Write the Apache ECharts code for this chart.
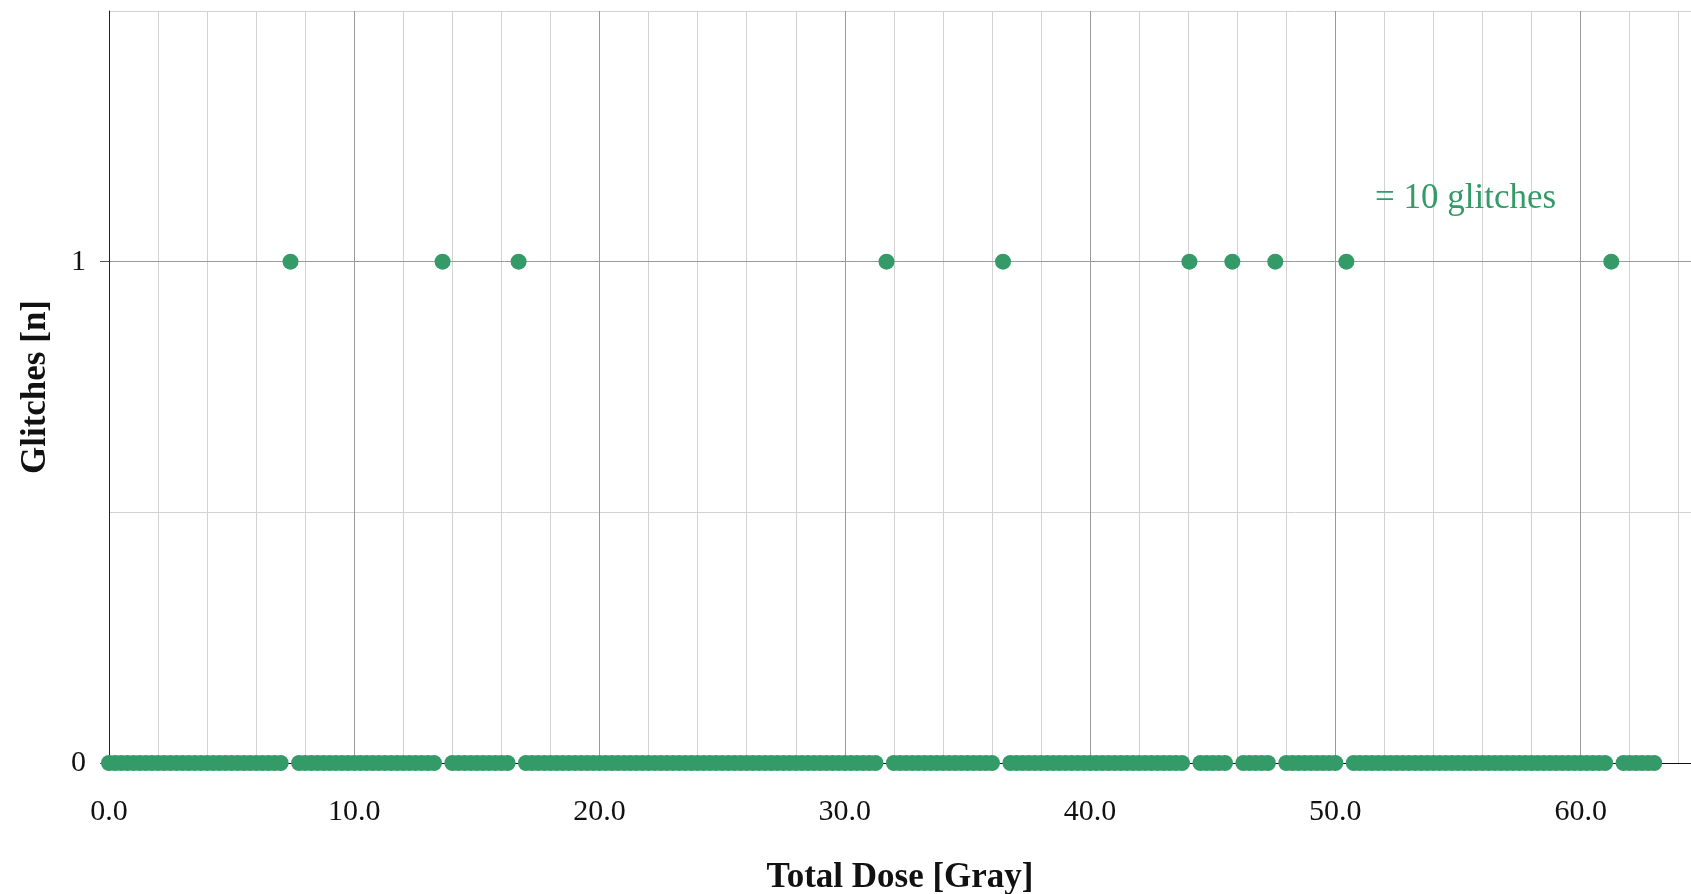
<!DOCTYPE html>
<html>
<head>
<meta charset="utf-8">
<script src="https://cdn.jsdelivr.net/npm/echarts@6/dist/echarts.min.js"></script>
<style>
html,body{margin:0;padding:0;background:#fff;}
#chart{width:1691px;height:894px;}
</style>
</head>
<body>
<div id="chart"></div>
<script>
// ---- data ----
const glitchDose = [7.4, 13.6, 16.7, 31.7, 36.45, 44.05, 45.8, 47.55, 50.45, 61.25];
const glitchCount = [1, 1, 1, 1, 1, 1, 1, 1, 1, 1];
const zeroDose = [
  0,0.25,0.5,0.75,1,1.25,1.5,1.75,2,2.25,2.5,2.75,3,3.25,3.5,3.75,4,4.25,4.5,4.75,
  5,5.25,5.5,5.75,6,6.25,6.5,6.75,7,7.75,8,8.25,8.5,8.75,9,9.25,9.5,9.75,
  10,10.25,10.5,10.75,11,11.25,11.5,11.75,12,12.25,12.5,12.75,13,13.25,14,14.25,14.5,14.75,
  15,15.25,15.5,15.75,16,16.25,17,17.25,17.5,17.75,18,18.25,18.5,18.75,19,19.25,19.5,19.75,
  20,20.25,20.5,20.75,21,21.25,21.5,21.75,22,22.25,22.5,22.75,23,23.25,23.5,23.75,24,24.25,24.5,24.75,
  25,25.25,25.5,25.75,26,26.25,26.5,26.75,27,27.25,27.5,27.75,28,28.25,28.5,28.75,29,29.25,29.5,29.75,
  30,30.25,30.5,30.75,31,31.25,32,32.25,32.5,32.75,33,33.25,33.5,33.75,34,34.25,34.5,34.75,
  35,35.25,35.5,35.75,36,36.75,37,37.25,37.5,37.75,38,38.25,38.5,38.75,39,39.25,39.5,39.75,
  40,40.25,40.5,40.75,41,41.25,41.5,41.75,42,42.25,42.5,42.75,43,43.25,43.5,43.75,44.5,44.75,
  45,45.25,45.5,46.25,46.5,46.75,47,47.25,48,48.25,48.5,48.75,49,49.25,49.5,49.75,
  50,50.75,51,51.25,51.5,51.75,52,52.25,52.5,52.75,53,53.25,53.5,53.75,54,54.25,54.5,54.75,
  55,55.25,55.5,55.75,56,56.25,56.5,56.75,57,57.25,57.5,57.75,58,58.25,58.5,58.75,59,59.25,59.5,59.75,
  60,60.25,60.5,60.75,61,61.75,62,62.25,62.5,62.75,63
];
const xMajorTicks = [0, 10, 20, 30, 40, 50, 60];
const yTickLabels = [0, 1];
const xTitle = 'Total Dose [Gray]';
const yTitle = 'Glitches [n]';
const noteText = '= 10 glitches';

// ---- chart ----
const GREEN = '#349b68';
const FONT = '"Liberation Serif", "DejaVu Serif", serif';
const chart = echarts.init(document.getElementById('chart'));

const zeroData = zeroDose.map(d => [d, 0]);
const glitchData = glitchDose.map((d, i) => [d, glitchCount[i]]);

chart.setOption({
  animation: false,
  backgroundColor: '#ffffff',
  grid: { left: 109, right: 0, top: 11, bottom: 131, containLabel: false, outerBoundsMode: 'none' },
  xAxis: [
    {
      type: 'value', min: 0, max: 64.5, interval: 10,
      name: xTitle, nameLocation: 'middle', nameGap: 97,
      nameTextStyle: { fontFamily: FONT, fontSize: 35, fontWeight: 'bold', color: '#111' },
      axisLine: { show: true, onZero: false, lineStyle: { color: '#111', width: 1 } },
      axisTick: { show: true, length: 8, lineStyle: { color: '#555' } },
      axisLabel: {
        margin: 34, fontFamily: FONT, fontSize: 30, color: '#111',
        showMaxLabel: false,
        formatter: v => xMajorTicks.indexOf(v) >= 0 ? v.toFixed(1) : ''
      },
      splitLine: { show: true, showMinLine: false, showMaxLine: false, lineStyle: { color: '#9a9a9a', width: 1 } },
      z: 2
    },
    {
      type: 'value', min: 0, max: 64.5, interval: 2, position: 'bottom',
      axisLine: { show: false }, axisTick: { show: false }, axisLabel: { show: false },
      splitLine: { show: true, showMinLine: false, showMaxLine: false, lineStyle: { color: '#d2d2d2', width: 1 } },
      z: 1
    }
  ],
  yAxis: [
    {
      type: 'value', min: 0, max: 1.5, interval: 1,
      name: yTitle, nameLocation: 'middle', nameGap: 56,
      nameTextStyle: { fontFamily: FONT, fontSize: 35, fontWeight: 'bold', color: '#111' },
      axisLine: { show: true, onZero: false, lineStyle: { color: '#222', width: 1 } },
      axisTick: { show: true, length: 9, lineStyle: { color: '#555' } },
      axisLabel: {
        margin: 23, fontFamily: FONT, fontSize: 30, color: '#111',
        showMaxLabel: false,
        formatter: v => yTickLabels.indexOf(v) >= 0 ? String(v) : ''
      },
      splitLine: { show: true, showMinLine: false, showMaxLine: false, lineStyle: { color: '#9a9a9a', width: 1 } },
      z: 2
    },
    {
      type: 'value', min: 0, max: 1.5, interval: 0.5, position: 'left',
      axisLine: { show: false }, axisTick: { show: false }, axisLabel: { show: false },
      splitLine: { show: true, showMinLine: false, showMaxLine: true, lineStyle: { color: '#d2d2d2', width: 1 } },
      z: 1
    }
  ],
  series: [
    {
      type: 'scatter', xAxisIndex: 0, yAxisIndex: 0,
      data: zeroData, symbol: 'circle', symbolSize: 16,
      itemStyle: { color: GREEN, opacity: 1 }, z: 5
    },
    {
      type: 'scatter', xAxisIndex: 0, yAxisIndex: 0,
      data: glitchData, symbol: 'circle', symbolSize: 16,
      itemStyle: { color: GREEN, opacity: 1 }, z: 5
    }
  ],
  graphic: [
    {
      type: 'text', left: 1375, top: 181, z: 10,
      style: { text: noteText, fill: GREEN, font: '35px ' + FONT }
    }
  ]
});
</script>
</body>
</html>
